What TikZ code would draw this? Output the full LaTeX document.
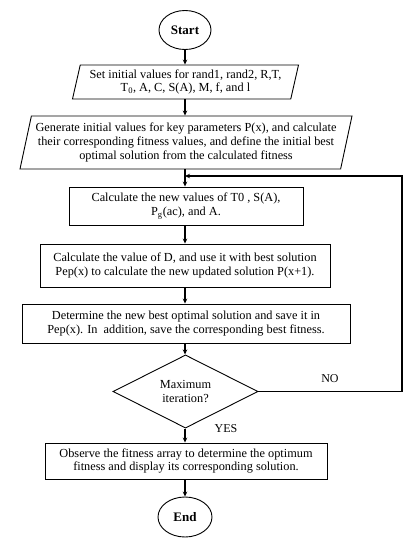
\documentclass[tikz,border=0pt]{standalone}
\usepackage{fontspec}
\setmainfont{Liberation Serif}
\usetikzlibrary{shapes.geometric,arrows.meta}
\tikzset{
  base/.style={draw=black, line width=0.9pt, align=center, inner sep=2pt,
    font=\fontsize{12.3}{13.6}\selectfont},
  procbox/.style={base, rectangle},
  iobox/.style={base, trapezium, trapezium left angle=75, trapezium right angle=105,
    trapezium stretches body=true},
  term/.style={base, ellipse, inner sep=0pt, font=\fontsize{13}{15}\selectfont\bfseries},
  decide/.style={base, diamond, inner sep=0pt},
  conn/.style={line width=1.1pt, -{Stealth[length=5pt,width=4.5pt]}},
  lbl/.style={font=\fontsize{12}{13}\selectfont}
}
\begin{document}
\begin{tikzpicture}[x=1pt,y=-1pt]
\useasboundingbox (0,0) rectangle (415,550);
\node[term, minimum width=52pt, minimum height=39pt] (start) at (185,30) {Start};
\node[iobox, minimum width=226pt, minimum height=34pt] (init) at (185.5,82)
  {Set initial values for rand1, rand2, R,T,\\T\textsubscript{0}, A, C, S(A), M, f, and l};
\node[iobox, minimum width=332pt, minimum height=53pt] (gen) at (186,142.5)
  {Generate initial values for key parameters P(x), and calculate\\their corresponding fitness values, and define the initial best\\optimal solution from the calculated fitness};
\node[procbox, minimum width=234pt, minimum height=38pt] (calc) at (186,206)
  {Calculate the new values of T0 , S(A),\\P\textsubscript{g}(ac), and A.};
\node[procbox, minimum width=290pt, minimum height=43pt] (dval) at (185,265.5)
  {Calculate the value of D, and use it with best solution\\Pep(x) to calculate the new updated solution P(x+1).};
\node[procbox, minimum width=328pt, minimum height=39pt] (best) at (186,323.5)
  {Determine the new best optimal solution and save it in\\Pep(x). In\ \ addition, save the corresponding best fitness.};
\node[decide, minimum width=145pt, minimum height=65pt] (maxit) at (185.5,391.5)
  {Maximum\\iteration?};
\node[procbox, minimum width=282pt, minimum height=36pt] (obs) at (186,461)
  {Observe the fitness array to determine the optimum\\fitness and display its corresponding solution.};
\node[term, minimum width=54pt, minimum height=40pt] (end) at (185,517) {End};
\node[lbl] (no) at (330,379) {NO};
\node[lbl] (yes) at (226,429) {YES};
\coordinate (j) at (185,176);
\coordinate (r1) at (402,391.5);
\coordinate (r2) at (402,176);
\draw[conn] (start.south) -- (start.south |- init.north);
\draw[conn] (start.south |- init.south) -- (start.south |- gen.north);
\draw[conn] (start.south |- gen.south) -- (start.south |- calc.north);
\draw[conn] (start.south |- calc.south) -- (start.south |- dval.north);
\draw[conn] (start.south |- dval.south) -- (start.south |- best.north);
\draw[conn] (start.south |- best.south) -- (start.south |- maxit.north);
\draw[conn] (start.south |- maxit.south) -- (start.south |- obs.north);
\draw[conn] (start.south |- obs.south) -- (end.north);
\draw[conn] (maxit.east) -- (r1) -- (r2) -- (j);
\end{tikzpicture}
\end{document}
